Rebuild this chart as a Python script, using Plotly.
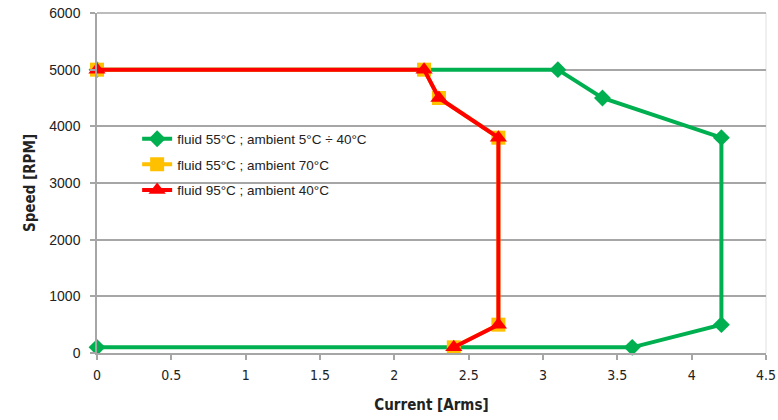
import plotly.graph_objects as go

names = ["fluid 55°C ; ambient 5°C ÷ 40°C", "fluid 55°C ; ambient 70°C", "fluid 95°C ; ambient 40°C"]
green_x = [0, 3.1, 3.4, 4.2, 4.2, 3.6, 0]
green_y = [5000, 5000, 4500, 3800, 500, 100, 100]
yellow_x = [0, 2.2, 2.3, 2.7, 2.7, 2.4]
yellow_y = [5000, 5000, 4500, 3800, 500, 100]
red_x = [0, 2.2, 2.3, 2.7, 2.7, 2.4]
red_y = [5000, 5000, 4500, 3800, 500, 100]

x_ticks = [0, 0.5, 1, 1.5, 2, 2.5, 3, 3.5, 4, 4.5]
x_labels = ["0", "0.5", "1", "1.5", "2", "2.5", "3", "3.5", "4", "4.5"]
y_ticks = [0, 1000, 2000, 3000, 4000, 5000, 6000]

fig = go.Figure()
fig.add_trace(go.Scatter(x=green_x, y=green_y, name=names[0], mode="lines+markers",
                         legendgroup="g", cliponaxis=False,
                         line=dict(color="#00b050", width=4),
                         marker=dict(symbol="diamond", size=13, color="#00b050")))
fig.add_trace(go.Scatter(x=yellow_x, y=yellow_y, name=names[1], mode="lines+markers",
                         legendgroup="y", cliponaxis=False,
                         line=dict(color="#ffc000", width=4),
                         marker=dict(symbol="square", size=14, color="#ffc000")))
fig.add_trace(go.Scatter(x=red_x, y=red_y, name=names[2], mode="lines+markers",
                         legendgroup="r", cliponaxis=False,
                         line=dict(color="#ff0000", width=4),
                         marker=dict(symbol="triangle-up", size=15, color="#ff0000")))

narrow = "DejaVu Sans Condensed, Liberation Sans Narrow, Arial Narrow, sans-serif"
fig.update_layout(
    width=778, height=420,
    margin=dict(l=97, r=12, t=13, b=67),
    plot_bgcolor="white", paper_bgcolor="white",
    showlegend=True,
    legend=dict(x=0.06, y=0.675, xanchor="left", yanchor="top",
                font=dict(family="Liberation Sans, Arial", size=13.5, color="#222"),
                bgcolor="rgba(0,0,0,0)", tracegroupgap=5, itemwidth=30),
    xaxis=dict(range=[0, 4.5], tickvals=x_ticks, ticktext=x_labels, automargin=False,
               showgrid=False, showline=True, linecolor="#a6a6a6", linewidth=1.5,
               ticks="outside", tickcolor="#a6a6a6", ticklen=5, tickwidth=1.5,
               ticklabelstandoff=3, ticklabeloverflow="allow",
               tickfont=dict(family=narrow, size=14, color="#222"),
               title=dict(text="<b>Current [Arms]</b>", font=dict(family=narrow, size=15, color="#222"), standoff=18),
               mirror=False, zeroline=False),
    yaxis=dict(range=[0, 6000], tickvals=y_ticks, automargin=False,
               showgrid=True, gridcolor="#a6a6a6", gridwidth=1.5,
               showline=True, linecolor="#a6a6a6", linewidth=1.5,
               ticks="outside", tickcolor="#a6a6a6", ticklen=5, tickwidth=1.5,
               ticklabelstandoff=7, ticklabeloverflow="allow",
               tickfont=dict(family="Liberation Sans, Arial", size=14, color="#222"),
               title=dict(text="<b>Speed [RPM]</b>", font=dict(family=narrow, size=15, color="#222"), standoff=10),
               zeroline=False),
)
fig.add_shape(type="line", xref="paper", yref="paper", x0=1, x1=1, y0=0, y1=1,
              line=dict(color="#e0e0e0", width=1), layer="below")
fig.add_shape(type="line", xref="paper", yref="paper", x0=0, x1=1, y0=1, y1=1,
              line=dict(color="#a6a6a6", width=1.5), layer="below")
fig.write_html("out.html", config={"displayModeBar": False},
               post_script="document.body.style.margin='0';document.body.style.overflow='hidden';")
